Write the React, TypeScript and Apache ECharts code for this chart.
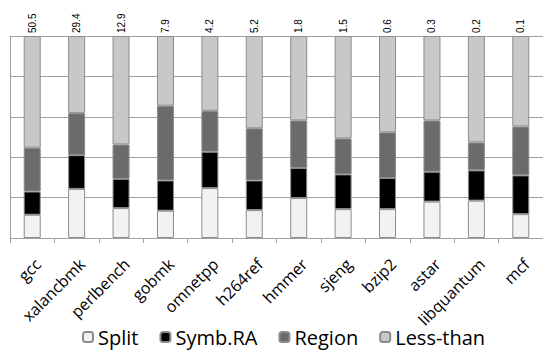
import React, { useEffect, useRef } from "react";
import * as echarts from "echarts";

const categories = ["gcc", "xalancbmk", "perlbench", "gobmk", "omnetpp", "h264ref", "hmmer", "sjeng", "bzip2", "astar", "libquantum", "mcf"];
const topLabels = ["50.5", "29.4", "12.9", "7.9", "4.2", "5.2", "1.8", "1.5", "0.6", "0.3", "0.2", "0.1"];
const splitValues = [11.5, 24.3, 14.8, 13.5, 24.7, 13.8, 19.8, 14.3, 14.3, 18.0, 18.5, 11.8];
const symbRAValues = [11.5, 16.7, 14.5, 15.0, 18.0, 14.7, 14.9, 17.2, 15.4, 14.8, 15.0, 19.2];
const regionValues = [21.7, 20.8, 17.0, 37.0, 20.3, 25.8, 23.5, 17.8, 22.6, 25.4, 13.8, 24.2];
const lessThanValues = [55.3, 38.2, 53.7, 34.5, 37.0, 45.7, 41.8, 50.7, 47.7, 41.8, 52.7, 44.8];

const seriesNames = ["Split", "Symb.RA", "Region", "Less-than"];
const seriesColors = ["#f2f2f2", "#000000", "#6b6b6b", "#c8c8c8"];

export default function App() {
  const ref = useRef<HTMLDivElement>(null);
  useEffect(() => {
    document.body.style.margin = "0";
    if (!ref.current) return;
    const chart = echarts.init(ref.current, undefined, { renderer: "svg" });
    const dataSets = [splitValues, symbRAValues, regionValues, lessThanValues];
    const series: any[] = dataSets.map((d, i) => ({
      name: seriesNames[i],
      type: "bar",
      stack: "total",
      barWidth: 17,
      data: d,
      itemStyle: { color: seriesColors[i], borderColor: "#8c8c8c", borderWidth: 1 },
      label:
        i === 3
          ? {
              show: true,
              position: "top",
              rotate: 90,
              align: "left",
              verticalAlign: "middle",
              distance: 3,
              fontFamily: "Liberation Sans",
              fontSize: 10,
              color: "#000",
              formatter: (p: any) => topLabels[p.dataIndex],
            }
          : { show: false },
    }));
    chart.setOption({
      animation: false,
      grid: { left: 10, right: 0, top: 36, bottom: 114 },
      legend: {
        data: seriesNames,
        left: 82,
        top: 327,
        padding: 0,
        itemWidth: 10,
        itemHeight: 10,
        itemGap: 21,
        textStyle: { fontFamily: "Open Sans", fontSize: 20, color: "#000", lineHeight: 20 },
      },
      xAxis: {
        type: "category",
        data: categories,
        axisLine: { show: true, lineStyle: { color: "#a0a0a0" } },
        axisTick: { show: true, length: 5, lineStyle: { color: "#a0a0a0" } },
        axisLabel: {
          rotate: 45,
          margin: 29,
          padding: [0, -8, 0, 0],
          interval: 0,
          fontFamily: "Open Sans",
          fontSize: 16,
          color: "#000",
        },
      },
      yAxis: {
        type: "value",
        min: 0,
        max: 100,
        interval: 20,
        axisLine: { show: true, lineStyle: { color: "#a0a0a0" } },
        axisTick: { show: false },
        axisLabel: { show: false },
        splitLine: { show: true, lineStyle: { color: "#a0a0a0" } },
      },
      series,
    });
    return () => chart.dispose();
  }, []);
  return <div ref={ref} style={{ position: "absolute", left: 0, top: 0, width: 543, height: 352 }} />;
}
